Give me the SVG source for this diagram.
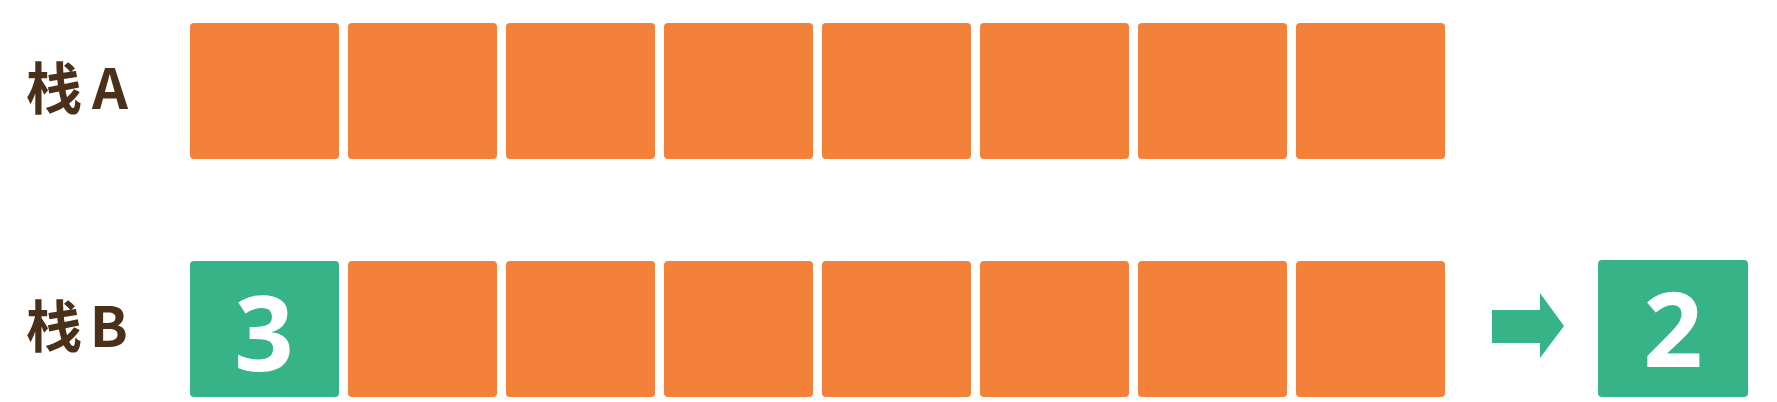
<svg xmlns="http://www.w3.org/2000/svg" width="1777" height="402" viewBox="0 0 1777 402">
<style>
.o{fill:#F4813A}
.g{fill:#37B487}
.lbl{font-family:"Noto Sans CJK SC","Noto Sans",sans-serif;font-size:56px;font-weight:700;fill:#4A3019}
.num{font-family:"Noto Sans","DejaVu Sans",sans-serif;font-size:104px;font-weight:700;fill:#FFFFFF;text-anchor:middle}
</style>
<rect width="1777" height="402" fill="#FFFFFF"/>
<g id="label-a"><text class="lbl" x="26" y="109" textLength="102" lengthAdjust="spacing">栈A</text></g>
<g id="label-b"><text class="lbl" x="26" y="347" textLength="102" lengthAdjust="spacing">栈B</text></g>
<g id="stack-a">
<rect id="a1" class="o" x="190" y="23" width="149" height="136" rx="4"/>
<rect id="a2" class="o" x="348" y="23" width="149" height="136" rx="4"/>
<rect id="a3" class="o" x="506" y="23" width="149" height="136" rx="4"/>
<rect id="a4" class="o" x="664" y="23" width="149" height="136" rx="4"/>
<rect id="a5" class="o" x="822" y="23" width="149" height="136" rx="4"/>
<rect id="a6" class="o" x="980" y="23" width="149" height="136" rx="4"/>
<rect id="a7" class="o" x="1138" y="23" width="149" height="136" rx="4"/>
<rect id="a8" class="o" x="1296" y="23" width="149" height="136" rx="4"/>
</g>
<g id="stack-b">
<g id="b1"><rect class="g" x="190" y="261" width="149" height="136" rx="4"/><text class="num" x="264" y="371">3</text></g>
<rect id="b2" class="o" x="348" y="261" width="149" height="136" rx="4"/>
<rect id="b3" class="o" x="506" y="261" width="149" height="136" rx="4"/>
<rect id="b4" class="o" x="664" y="261" width="149" height="136" rx="4"/>
<rect id="b5" class="o" x="822" y="261" width="149" height="136" rx="4"/>
<rect id="b6" class="o" x="980" y="261" width="149" height="136" rx="4"/>
<rect id="b7" class="o" x="1138" y="261" width="149" height="136" rx="4"/>
<rect id="b8" class="o" x="1296" y="261" width="149" height="136" rx="4"/>
</g>
<g id="connectors">
<polygon class="g" points="1492,310 1540,310 1540,293 1564,326 1540,358 1540,343 1492,343"/>
</g>
<g id="popped"><rect class="g" x="1598" y="260" width="150" height="137" rx="4"/><text class="num" x="1673" y="367">2</text></g>
</svg>
